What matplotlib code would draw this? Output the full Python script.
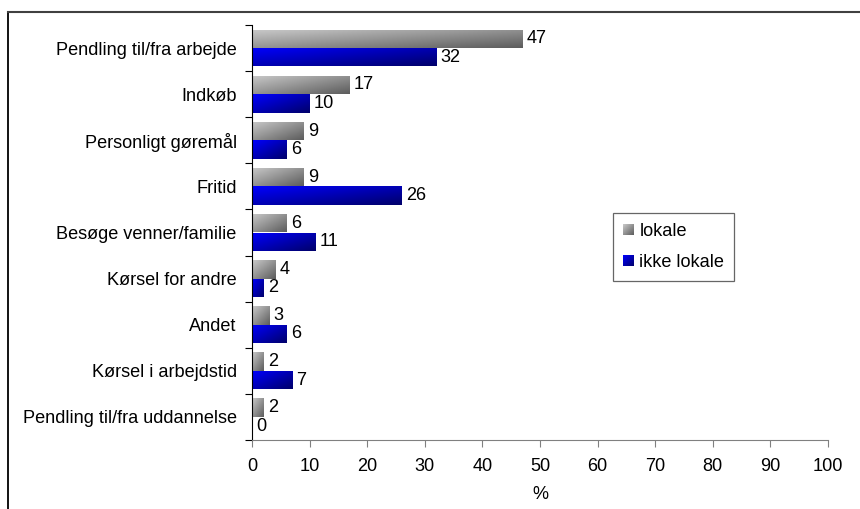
import numpy as np
import matplotlib
matplotlib.use("Agg")
import matplotlib.pyplot as plt
from matplotlib.colors import LinearSegmentedColormap
from matplotlib.legend_handler import HandlerBase
from matplotlib.image import BboxImage
from matplotlib.transforms import Bbox, TransformedBbox
from matplotlib.lines import Line2D
from matplotlib.patches import Patch

categories = ["Pendling til/fra arbejde", "Indkøb", "Personligt gøremål", "Fritid",
              "Besøge venner/familie", "Kørsel for andre", "Andet",
              "Kørsel i arbejdstid", "Pendling til/fra uddannelse"]
lokale = [47, 17, 9, 9, 6, 4, 3, 2, 2]
ikke_lokale = [32, 10, 6, 26, 11, 2, 6, 7, 0]
series_names = ["lokale", "ikke lokale"]
xticks = list(range(0, 101, 10))

plt.rcParams['font.family'] = ['Liberation Sans', 'DejaVu Sans']
FS = 13.1

gray_cmap = LinearSegmentedColormap.from_list("g", ["#cacaca", "#5c5c5c"])
blue_cmap = LinearSegmentedColormap.from_list("b", ["#0000ff", "#00006a"])

n = 64
u = np.linspace(0, 1, n)
grad = (u[None, :] + u[:, None]) / 2.0  # top-left light -> bottom-right dark

fig = plt.figure(figsize=(8.6, 5.09), dpi=100)
ax = fig.add_axes([252/860, 69/509, 576/860, 415/509])

y = np.arange(len(categories))
h = 0.4
bars1 = ax.barh(y - 0.2, lokale, height=h, facecolor='none', edgecolor='none')
bars2 = ax.barh(y + 0.2, ikke_lokale, height=h, facecolor='none', edgecolor='none')

for bars, cmap in ((bars1, gray_cmap), (bars2, blue_cmap)):
    for b in bars:
        x0, y0 = b.get_x(), b.get_y()
        w, hh = b.get_width(), b.get_height()
        if w <= 0:
            continue
        im = ax.imshow(grad, cmap=cmap, vmin=0, vmax=1, aspect='auto',
                       extent=(x0, x0 + w, y0 + hh, y0), interpolation='bilinear',
                       zorder=2)
        im.set_clip_path(b)

for bars, vals in ((bars1, lokale), (bars2, ikke_lokale)):
    for b, v in zip(bars, vals):
        ax.annotate(f"{v}", xy=(b.get_width(), b.get_y() + b.get_height()/2),
                    xytext=(3, 0), textcoords='offset points', va='center', ha='left',
                    fontsize=FS, color='black')

ax.set_xlim(0, 100)
ax.set_ylim(len(categories) - 0.5, -0.5)
ax.set_xticks(xticks)
ax.set_xticklabels([str(t) for t in xticks], fontsize=FS)
ax.set_yticks(np.arange(len(categories) + 1) - 0.5)
ax.set_yticklabels([])
ax.set_yticks(y, minor=True)
ax.set_yticklabels(categories, minor=True, fontsize=FS)
ax.tick_params(axis='y', which='minor', length=0, pad=11)
ax.tick_params(axis='y', which='major', length=5, direction='out', color='black')
ax.tick_params(axis='x', length=5, direction='out', color='#808080', pad=8)
ax.set_xlabel("%", fontsize=FS, labelpad=8)

for s in ('top', 'right'):
    ax.spines[s].set_visible(False)
ax.spines['bottom'].set_color('#808080')
ax.spines['left'].set_color('black')


class GradHandler(HandlerBase):
    def __init__(self, cmap):
        super().__init__()
        self.cmap = cmap

    def create_artists(self, legend, orig_handle, xdescent, ydescent, width, height,
                       fontsize, trans):
        s = min(width, height)
        bb = Bbox.from_bounds(-xdescent, -ydescent + (height - s)/2, s, s)
        tbb = TransformedBbox(bb, trans)
        img = BboxImage(tbb, cmap=self.cmap, norm=plt.Normalize(0, 1), interpolation='bilinear')
        img.set_data(grad)
        return [img]


h1 = Patch(label=series_names[0])
h2 = Patch(label=series_names[1])
leg = ax.legend([h1, h2], series_names, loc='upper left',
                bbox_to_anchor=((613-252)/576, (440-213)/415), borderaxespad=0,
                handler_map={h1: GradHandler(gray_cmap), h2: GradHandler(blue_cmap)},
                fontsize=FS, frameon=True, fancybox=False, shadow=False,
                handlelength=0.6, handleheight=0.6, handletextpad=0.3,
                labelspacing=0.75, borderpad=0.55)
leg.get_frame().set_edgecolor('#404040')
leg.get_frame().set_linewidth(0.9)

# outer frame (partially visible)
fig.add_artist(Line2D([7.5/860, 7.5/860], [0, (509-12)/509], color='black', lw=1.3,
                      transform=fig.transFigure))
fig.add_artist(Line2D([7.5/860, 1], [(509-12)/509, (509-12)/509], color='#404040', lw=1.5,
                      transform=fig.transFigure))

fig.savefig("out.png", dpi=100)
